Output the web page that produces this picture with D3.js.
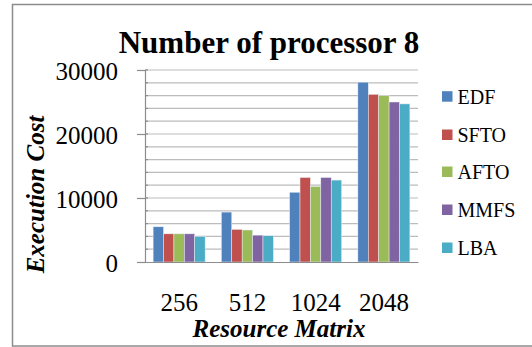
<!DOCTYPE html>
<html>
<head>
<meta charset="utf-8">
<script src="https://cdn.jsdelivr.net/npm/d3@7"></script>
<style>
  html, body { margin: 0; padding: 0; background: #fff; }
  svg { display: block; }
  text { font-family: "Liberation Serif", "Times New Roman", serif; fill: #000; }
</style>
</head>
<body>
<svg id="chart" width="532" height="347"></svg>
<script>
const categories = ["256", "512", "1024", "2048"];
const seriesNames = ["EDF", "SFTO", "AFTO", "MMFS", "LBA"];
const EDF  = [5500, 7800, 10900, 28100];
const SFTO = [4400, 5100, 13200, 26200];
const AFTO = [4400, 5000, 11800, 26000];
const MMFS = [4400, 4200, 13200, 25000];
const LBA  = [4000, 4100, 12800, 24700];
const seriesValues = [EDF, SFTO, AFTO, MMFS, LBA];
const seriesColors = ["#4F81BD", "#C0504D", "#9BBB59", "#8064A2", "#4BACC6"];
const yTickLabels = [0, 10000, 20000, 30000];
const gridStep = 2000;
const titleText = "Number of processor 8";
const xTitle = "Resource Matrix";
const yTitle = "Execution Cost";

const svg = d3.select("#chart");

// outer frame
svg.append("rect")
  .attr("x", 12.5).attr("y", 4.5)
  .attr("width", 540).attr("height", 341.5)
  .attr("fill", "none").attr("stroke", "#8c8c8c").attr("stroke-width", 1.5);

const L = 145, R = 418, T = 70, B = 262;

const x = d3.scaleBand().domain(categories).range([L, R])
  .paddingInner(0.238).paddingOuter(0.119);
const xs = d3.scaleBand().domain(seriesNames).range([0, x.bandwidth()]).padding(0);
const y = d3.scaleLinear().domain([0, 30000]).range([B, T]);

// gridlines
const gridVals = d3.range(gridStep, 30000 + 1, gridStep);
svg.append("g").selectAll("line").data(gridVals).join("line")
  .attr("x1", L).attr("x2", R)
  .attr("y1", d => y(d)).attr("y2", d => y(d))
  .attr("stroke", "#bcbcbc").attr("stroke-width", 1.2);

// bars
const groups = svg.append("g").selectAll("g").data(categories).join("g")
  .attr("transform", c => `translate(${x(c)},0)`);
groups.selectAll("rect")
  .data((c, i) => seriesNames.map((s, j) => ({ s, j, v: seriesValues[j][i] })))
  .join("rect")
  .attr("x", d => xs(d.s))
  .attr("width", xs.bandwidth())
  .attr("y", d => y(d.v))
  .attr("height", d => B - y(d.v))
  .attr("fill", d => seriesColors[d.j])
  .attr("stroke", "#e8eef5").attr("stroke-width", 0.5);

// y axis
const yAxis = d3.axisLeft(y).tickValues(yTickLabels).tickSize(8).tickPadding(19)
  .tickFormat(d3.format("d"));
const yg = svg.append("g").attr("transform", `translate(${L},0)`).call(yAxis);
yg.select(".domain").attr("stroke", "#8c8c8c").attr("stroke-width", 1.2);
yg.selectAll(".tick line").attr("stroke", "#8c8c8c").attr("stroke-width", 1.2);
yg.selectAll(".tick text")
  .style("font-family", "'Liberation Serif', 'Times New Roman', serif")
  .style("font-size", "25px").attr("fill", "#000").attr("dy", "0.36em");

// minor ticks on right of axis
svg.append("g").selectAll("line").data(gridVals).join("line")
  .attr("x1", L).attr("x2", L + 3)
  .attr("y1", d => y(d)).attr("y2", d => y(d))
  .attr("stroke", "#8c8c8c").attr("stroke-width", 1.2);

// x axis
const xAxis = d3.axisBottom(x).tickSize(0).tickPadding(31);
const xg = svg.append("g").attr("transform", `translate(0,${B})`).call(xAxis);
xg.select(".domain").attr("stroke", "#8c8c8c").attr("stroke-width", 1.2);
xg.selectAll(".tick text")
  .style("font-family", "'Liberation Serif', 'Times New Roman', serif")
  .style("font-size", "25px").attr("fill", "#000");

// title
svg.append("text").attr("x", 269).attr("y", 53)
  .attr("text-anchor", "middle")
  .style("font-size", "31px").style("font-weight", "bold")
  .text(titleText);

// x title
svg.append("text").attr("x", 279).attr("y", 337)
  .attr("text-anchor", "middle")
  .style("font-size", "25px").style("font-weight", "bold").style("font-style", "italic")
  .text(xTitle);

// y title
svg.append("text")
  .attr("transform", "translate(44,194.5) rotate(-90)")
  .attr("text-anchor", "middle")
  .style("font-size", "25px").style("font-weight", "bold").style("font-style", "italic")
  .text(yTitle);

// legend
const legendY = [96.7, 135, 172, 210, 248];
const lg = svg.append("g").selectAll("g").data(seriesNames).join("g")
  .attr("transform", (d, i) => `translate(442,${legendY[i]})`);
lg.append("rect").attr("x", 0).attr("y", -5.5).attr("width", 10.5).attr("height", 10.5)
  .attr("fill", (d, i) => seriesColors[i]);
lg.append("text").attr("x", 15.5).attr("y", 0).attr("dy", "0.34em")
  .style("font-size", "20px")
  .text(d => d);
</script>
</body>
</html>
